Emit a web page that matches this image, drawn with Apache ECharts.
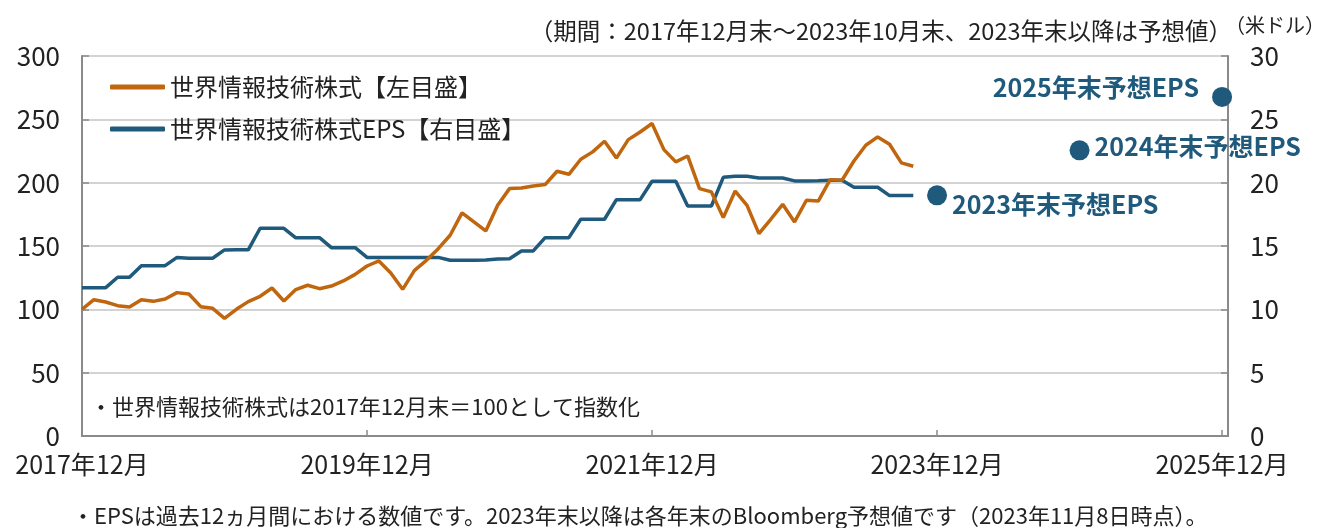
<!DOCTYPE html>
<html>
<head>
<meta charset="utf-8">
<script src="https://cdn.jsdelivr.net/npm/echarts@6/dist/echarts.min.js"></script>
<style>
  html, body { margin: 0; padding: 0; background: #fff; }
  #chart { width: 1318px; height: 528px; }
</style>
</head>
<body>
<div id="chart"></div>
<script>
// 月次インデックス 0 = 2017年12月末
const xTickLabels = ['2017年12月', '2019年12月', '2021年12月', '2023年12月', '2025年12月'];

// 世界情報技術株式（2017年12月末=100）2017/12〜2023/10
const priceIndex = [
  100, 107.6, 105.8, 102.9, 101.8, 107.6, 106.3, 108.1, 113.2, 112.1, 102.1, 100.8,
  92.9, 100, 106.1, 110.3, 116.8, 106.6, 115.6, 119, 116.3, 118.4, 122.4, 127.6,
  134.2, 138.2, 128.7, 115.8, 130.8, 138.7, 147.9, 158.5, 176.1, 169, 161.9, 182.1,
  195.3, 195.8, 197.4, 198.5, 209, 206.6, 218.5, 224.3, 232.7, 219.4, 234, 240,
  246.7, 226.1, 216.4, 221.1, 195.3, 192.7, 172.4, 193.4, 182.1, 159.8, 171.1, 182.9,
  169, 186.1, 185.5, 202.4, 201.9, 217.1, 229.5, 236.1, 230.3, 215.6, 213
];

// 世界情報技術株式EPS（米ドル）2017/12〜2023/10
const eps = [
  11.71, 11.71, 11.71, 12.53, 12.53, 13.45, 13.45, 13.45, 14.1, 14.03, 14.03, 14.03,
  14.69, 14.7, 14.7, 16.4, 16.4, 16.4, 15.65, 15.66, 15.66, 14.87, 14.87, 14.87,
  14.1, 14.1, 14.1, 14.1, 14.1, 14.1, 14.1, 13.87, 13.87, 13.87, 13.9, 13.97,
  13.99, 14.61, 14.61, 15.66, 15.66, 15.66, 17.11, 17.11, 17.11, 18.66, 18.66, 18.66,
  20.11, 20.11, 20.11, 18.16, 18.16, 18.16, 20.42, 20.5, 20.5, 20.37, 20.37, 20.37,
  20.14, 20.14, 20.16, 20.19, 20.19, 19.64, 19.64, 19.64, 18.98, 18.98, 18.98
];

// 予想EPS（各年末）
const forecastNames = ['2023年末予想EPS', '2024年末予想EPS', '2025年末予想EPS'];
const forecastMonth = [72, 84, 96];
const forecastEps = [19.0, 22.55, 26.77];

const FONT = "'Noto Sans CJK JP', 'Noto Sans', sans-serif";
const ORANGE = '#C0660F';
const BLUE = '#1F5A7C';
const AXIS = '#8a8a8a';

const labelPos = [
  { position: 'right', offset: [0, 9] },
  { position: 'right', offset: [0, -4] },
  { position: 'left', offset: [-8, -9] }
];

const chart = echarts.init(document.getElementById('chart'));
chart.setOption({
  animation: false,
  textStyle: { fontFamily: FONT },
  grid: { left: 82, right: 90, top: 56, bottom: 92 },
  legend: {
    data: ['世界情報技術株式【左目盛】', '世界情報技術株式EPS【右目盛】'],
    orient: 'vertical',
    left: 105,
    top: 70,
    itemWidth: 55,
    itemHeight: 5,
    itemGap: 18,
    icon: 'roundRect',
    textStyle: { fontFamily: FONT, fontSize: 24, color: '#222' }
  },
  xAxis: {
    type: 'value',
    min: 0,
    max: 96.5,
    interval: 24,
    axisLine: { show: true, lineStyle: { color: AXIS, width: 2 } },
    axisTick: { show: true, inside: true, length: 6, lineStyle: { color: AXIS, width: 1.5 } },
    splitLine: { show: false },
    axisLabel: {
      fontFamily: FONT, fontSize: 25, color: '#222', margin: 16,
      showMaxLabel: true,
      formatter: v => (v % 24 === 0 ? xTickLabels[v / 24] : '')
    }
  },
  yAxis: [
    {
      type: 'value', min: 0, max: 300, interval: 50, position: 'left',
      axisLine: { show: true, lineStyle: { color: AXIS, width: 2 } },
      axisTick: { show: true, inside: true, length: 7, lineStyle: { color: AXIS, width: 1.5 } },
      splitLine: { show: true, lineStyle: { color: '#c4c4c4', width: 1.5 } },
      axisLabel: { fontFamily: FONT, fontSize: 26, color: '#222', margin: 22 }
    },
    {
      type: 'value', min: 0, max: 30, interval: 5, position: 'right',
      axisLine: { show: true, lineStyle: { color: AXIS, width: 2 } },
      axisTick: { show: true, inside: true, length: 7, lineStyle: { color: AXIS, width: 1.5 } },
      splitLine: { show: false },
      axisLabel: { fontFamily: FONT, fontSize: 26, color: '#222', margin: 22 }
    }
  ],
  series: [
    {
      name: '世界情報技術株式【左目盛】',
      type: 'line',
      yAxisIndex: 0,
      symbol: 'none',
      lineStyle: { color: ORANGE, width: 3.5 },
      itemStyle: { color: ORANGE },
      data: priceIndex.map((v, i) => [i, v]),
      z: 3
    },
    {
      name: '世界情報技術株式EPS【右目盛】',
      type: 'line',
      yAxisIndex: 1,
      symbol: 'none',
      lineStyle: { color: BLUE, width: 3.5 },
      itemStyle: { color: BLUE },
      data: eps.map((v, i) => [i, v]),
      z: 2
    },
    {
      name: '予想EPS',
      type: 'scatter',
      yAxisIndex: 1,
      symbolSize: 20,
      itemStyle: { color: BLUE, opacity: 1 },
      data: forecastEps.map((v, i) => ({
        value: [forecastMonth[i], v],
        name: forecastNames[i],
        label: {
          show: true,
          formatter: '{b}',
          position: labelPos[i].position,
          offset: labelPos[i].offset,
          fontFamily: FONT, fontSize: 25, fontWeight: 'bold', color: BLUE, opacity: 1
        }
      })),
      z: 4
    }
  ],
  graphic: [
    {
      type: 'text', x: 1232, y: 31,
      style: { text: '（期間：2017年12月末～2023年10月末、2023年末以降は予想値）', font: '23.5px ' + FONT, fill: '#222', textAlign: 'right', textVerticalAlign: 'middle' }
    },
    {
      type: 'text', x: 1275, y: 25,
      style: { text: '（米ドル）', font: '20px ' + FONT, fill: '#222', textAlign: 'center', textVerticalAlign: 'middle' }
    },
    {
      type: 'text', x: 90, y: 407,
      style: { text: '・世界情報技術株式は2017年12月末＝100として指数化', font: '22px ' + FONT, fill: '#222', textAlign: 'left', textVerticalAlign: 'middle' }
    },
    {
      type: 'text', x: 72, y: 516,
      style: { text: '・EPSは過去12ヵ月間における数値です。2023年末以降は各年末のBloomberg予想値です（2023年11月8日時点）。', font: '22px ' + FONT, fill: '#222', textAlign: 'left', textVerticalAlign: 'middle' }
    }
  ]
});
</script>
</body>
</html>
